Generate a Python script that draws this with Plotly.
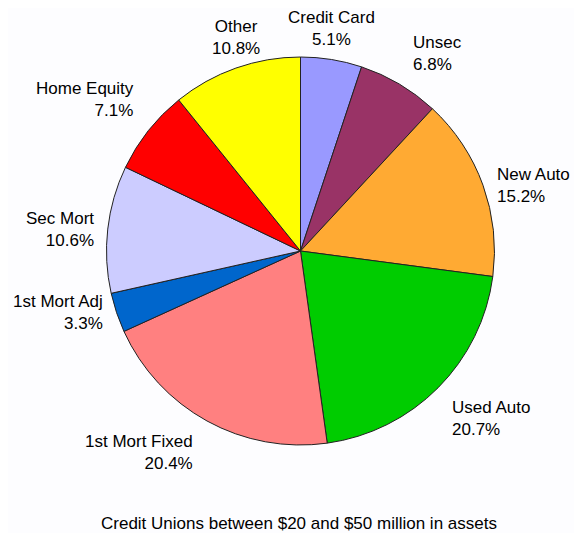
import math
import plotly.graph_objects as go

labels = ["Credit Card", "Unsec", "New Auto", "Used Auto", "1st Mort Fixed",
          "1st Mort Adj", "Sec Mort", "Home Equity", "Other"]
values = [5.1, 6.8, 15.2, 20.7, 20.4, 3.3, 10.6, 7.1, 10.8]
colors = ["#9999FF", "#993366", "#FFAA33", "#00CC00", "#FF8080",
          "#0066CC", "#CCCCFF", "#FF0000", "#FFFF00"]
title_text = "Credit Unions between $20 and $50 million in assets"

# page body has an 8px margin, so figure coords are screen coords minus 8
W, H = 574, 525
CX, CY, R = 292.5, 243, 194
FONT = dict(family="Liberation Sans, Arial, sans-serif", size=17, color="black")

fig = go.Figure(go.Pie(
    labels=labels, values=values, sort=False, direction="clockwise", rotation=0,
    marker=dict(colors=colors, line=dict(color="#222222", width=1)),
    textinfo="none", hoverinfo="label+percent", showlegend=False,
    domain=dict(x=[(CX - R) / W, (CX + R) / W], y=[1 - (CY + R) / H, 1 - (CY - R) / H]),
))

total = sum(values)
cum = 0.0
annotations = []
for lab, v in zip(labels, values):
    mid = (cum + v / 2) / total * 2 * math.pi
    cum += v
    s, c = math.sin(mid), math.cos(mid)
    px, py = CX + R * s, CY - R * c
    if abs(s) >= 0.35:
        xa = "left" if s > 0 else "right"
        px += 12 if s > 0 else -12
    else:
        xa = "center"
    if abs(c) > 0.45:
        py += -31 if c > 0 else 31
    annotations.append(dict(
        x=px / W, y=1 - py / H, xref="paper", yref="paper",
        text=f"{lab}<br>{v:.1f}%", showarrow=False,
        xanchor=xa, yanchor="middle", align=xa,
        font=FONT,
    ))

annotations.append(dict(
    x=291 / W, y=1 - 515 / H, xref="paper", yref="paper", text=title_text,
    showarrow=False, xanchor="center", yanchor="middle", font=FONT,
))

fig.update_layout(
    width=W, height=H, margin=dict(l=0, r=0, t=0, b=0),
    paper_bgcolor="#FDFDFF", plot_bgcolor="#FDFDFF",
    annotations=annotations,
)
fig.write_html("out.html")
